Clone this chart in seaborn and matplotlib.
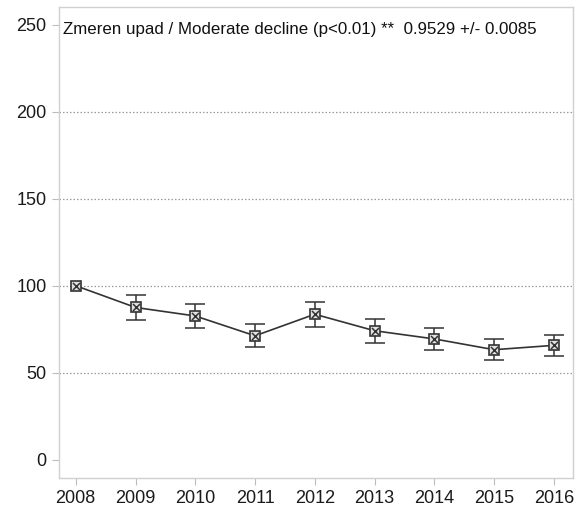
import matplotlib
matplotlib.use("Agg")
import matplotlib.pyplot as plt
import seaborn as sns
import pandas as pd

years = [2008, 2009, 2010, 2011, 2012, 2013, 2014, 2015, 2016]
index_values = [100.0, 87.5, 82.6, 71.2, 83.6, 74.1, 69.4, 63.2, 65.7]
index_se = [0.0, 7.2, 7.0, 6.5, 7.2, 6.9, 6.4, 6.0, 6.1]
y_ticks = [0, 50, 100, 150, 200, 250]
grid_levels = [50, 100, 150, 200]
trend_label = "Zmeren upad / Moderate decline (p<0.01) **  0.9529 +/- 0.0085"

df = pd.DataFrame({"year": years, "index": index_values, "se": index_se})
bars = df[df["se"] > 0]

sns.set_theme(style="white")
plt.rcParams["font.family"] = ["Liberation Sans", "DejaVu Sans"]

fig = plt.figure(figsize=(5.81, 5.13), dpi=100)
ax = fig.add_axes([59 / 581, 1 - 477.5 / 513, 514 / 581, 470.5 / 513])

line_col = "#333333"

for g in grid_levels:
    ax.axhline(g, color="#9a9a9a", lw=0.9, ls=(0, (1.2, 1.6)), zorder=0)

ax.errorbar(bars["year"], bars["index"], yerr=bars["se"], fmt="none",
            ecolor=line_col, elinewidth=1.1, capsize=7, capthick=1.1, zorder=2)
sns.lineplot(data=df, x="year", y="index", ax=ax, color=line_col, lw=1.2,
             marker="s", markersize=7.5, markerfacecolor="#e0e0e0",
             markeredgecolor=line_col, markeredgewidth=1.2, zorder=3)
sns.scatterplot(data=df, x="year", y="index", ax=ax, marker="x", s=26,
                color=line_col, linewidth=1.1, zorder=4)

ax.set_xlim(2007.72, 2016.32)
ax.set_ylim(-10.3, 260.3)
ax.set_xticks(years)
ax.set_xticklabels([str(y) for y in years])
ax.set_yticks(y_ticks)
ax.set_xlabel("")
ax.set_ylabel("")

for s in ax.spines.values():
    s.set_color("#d0d0d0")
    s.set_linewidth(1.0)
ax.tick_params(axis="both", which="both", length=5, width=0.8, color="#bdbdbd",
               labelsize=13, labelcolor="#1a1a1a", direction="out", pad=4,
               bottom=True, left=True)

ax.text(0.008, 0.952, trend_label, transform=ax.transAxes, fontsize=12.2,
        color="#111111", ha="left", va="center")

fig.savefig("out.png", dpi=100)
